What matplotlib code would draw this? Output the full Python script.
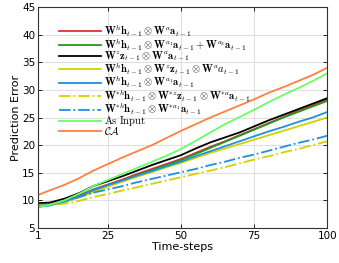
import matplotlib
matplotlib.use("Agg")
import matplotlib.pyplot as plt

plt.rcParams['mathtext.fontset'] = 'cm'
plt.rcParams['font.family'] = 'DejaVu Sans'

steps = [1, 5, 10, 15, 20, 25, 30, 35, 40, 45, 50, 55, 60, 65, 70, 75, 80, 85, 90, 95, 100]

err_ha = [9.2, 9.3, 10.0, 10.9, 12.0, 12.9, 13.8, 14.8, 15.7, 16.6, 17.5, 18.6, 19.7, 20.7, 21.8, 22.9, 24.0, 25.1, 26.2, 27.2, 28.3]
err_ha_sum = [8.9, 9.1, 9.8, 10.7, 11.8, 12.7, 13.6, 14.6, 15.5, 16.4, 17.3, 18.4, 19.5, 20.6, 21.7, 22.8, 23.9, 25.0, 26.0, 27.0, 28.0]
err_za = [9.5, 9.6, 10.3, 11.3, 12.6, 13.5, 14.4, 15.4, 16.4, 17.3, 18.2, 19.4, 20.5, 21.4, 22.3, 23.4, 24.5, 25.5, 26.5, 27.5, 28.5]
err_hza = [9.1, 9.2, 9.7, 10.5, 11.5, 12.5, 13.4, 14.3, 15.1, 16.0, 16.8, 17.7, 18.6, 19.4, 20.2, 21.0, 21.8, 22.6, 23.4, 24.2, 25.0]
err_ha1 = [8.8, 9.1, 9.8, 10.7, 11.9, 12.8, 13.6, 14.5, 15.3, 16.2, 17.0, 18.0, 18.9, 19.8, 20.7, 21.6, 22.5, 23.3, 24.2, 25.0, 26.0]
err_star_hza = [9.2, 9.2, 9.4, 9.9, 10.6, 11.2, 11.8, 12.4, 13.0, 13.6, 14.2, 14.8, 15.4, 16.0, 16.7, 17.4, 18.0, 18.7, 19.3, 20.0, 20.7]
err_star_ha1 = [9.0, 9.2, 9.8, 10.6, 11.4, 12.0, 12.6, 13.3, 13.9, 14.5, 15.1, 15.7, 16.4, 17.0, 17.7, 18.3, 19.0, 19.7, 20.4, 21.0, 21.7]
err_input = [8.8, 9.2, 10.0, 11.2, 12.6, 13.7, 14.8, 15.9, 17.0, 18.1, 19.3, 20.8, 22.3, 23.8, 25.1, 26.4, 27.8, 29.1, 30.3, 31.6, 33.0]
err_ca = [11.0, 11.8, 12.8, 14.0, 15.4, 16.6, 17.8, 18.9, 20.0, 21.3, 22.6, 23.8, 25.0, 26.1, 27.2, 28.3, 29.5, 30.5, 31.6, 32.7, 34.0]

labels = [
    r'$\mathbf{W}^h\mathbf{h}_{t-1}\otimes\mathbf{W}^a\mathbf{a}_{t-1}$',
    r'$\mathbf{W}^h\mathbf{h}_{t-1}\otimes\mathbf{W}^{a_1}\mathbf{a}_{t-1}+\mathbf{W}^{a_2}\mathbf{a}_{t-1}$',
    r'$\mathbf{W}^z\mathbf{z}_{t-1}\otimes\mathbf{W}^a\mathbf{a}_{t-1}$',
    r'$\mathbf{W}^h\mathbf{h}_{t-1}\otimes\mathbf{W}^z\mathbf{z}_{t-1}\otimes\mathbf{W}^a a_{t-1}$',
    r'$\mathbf{W}^h\mathbf{h}_{t-1}\otimes\mathbf{W}^{a_1}\mathbf{a}_{t-1}$',
    r'$\mathbf{W}^{*h}\mathbf{h}_{t-1}\otimes\mathbf{W}^{*z}\mathbf{z}_{t-1}\otimes\mathbf{W}^{*a}\mathbf{a}_{t-1}$',
    r'$\mathbf{W}^{*h}\mathbf{h}_{t-1}\otimes\mathbf{W}^{*a_1}\mathbf{a}_{t-1}$',
    r'$\mathrm{As\ Input}$',
    r'$\mathcal{CA}$',
]
series = [err_ha, err_ha_sum, err_za, err_hza, err_ha1, err_star_hza, err_star_ha1, err_input, err_ca]
colors = ['#e03030', '#1f9a1f', '#000000', '#d2d200', '#1f8fe0', '#d2d200', '#1f8fe0', '#66ff66', '#ff8040']
styles = ['-', '-', '-', '-', '-', '-.', '-.', '-', '-']

fig = plt.figure(figsize=(3.39, 2.63), dpi=100)
ax = fig.add_axes([0.112, 0.133, 0.853, 0.84])

for ys, lab, c, ls in zip(series, labels, colors, styles):
    ax.plot(steps, ys, color=c, linestyle=ls, linewidth=1.3, label=lab)

ax.set_xlim(1, 100)
ax.set_ylim(5, 45)
ax.set_xticks([1, 25, 50, 75, 100])
ax.set_yticks(range(5, 46, 5))
ax.grid(True, color='#e0e0e0', linewidth=0.8)
ax.set_axisbelow(True)
ax.tick_params(direction='in', top=True, right=True, labelsize=7.5, length=3, width=0.6, pad=2)
for sp in ax.spines.values():
    sp.set_linewidth(0.8)
    sp.set_color('#333333')
ax.set_xlabel('Time-steps', fontsize=8, labelpad=1)
ax.set_ylabel('Prediction Error', fontsize=8, labelpad=1)

leg = ax.legend(loc='upper left', bbox_to_anchor=(0.072, 0.93), fontsize=7.6, frameon=False,
                handlelength=4.0, handletextpad=0.3, labelspacing=-0.25, borderaxespad=0,
                borderpad=0)

fig.savefig('out.png', dpi=100)
